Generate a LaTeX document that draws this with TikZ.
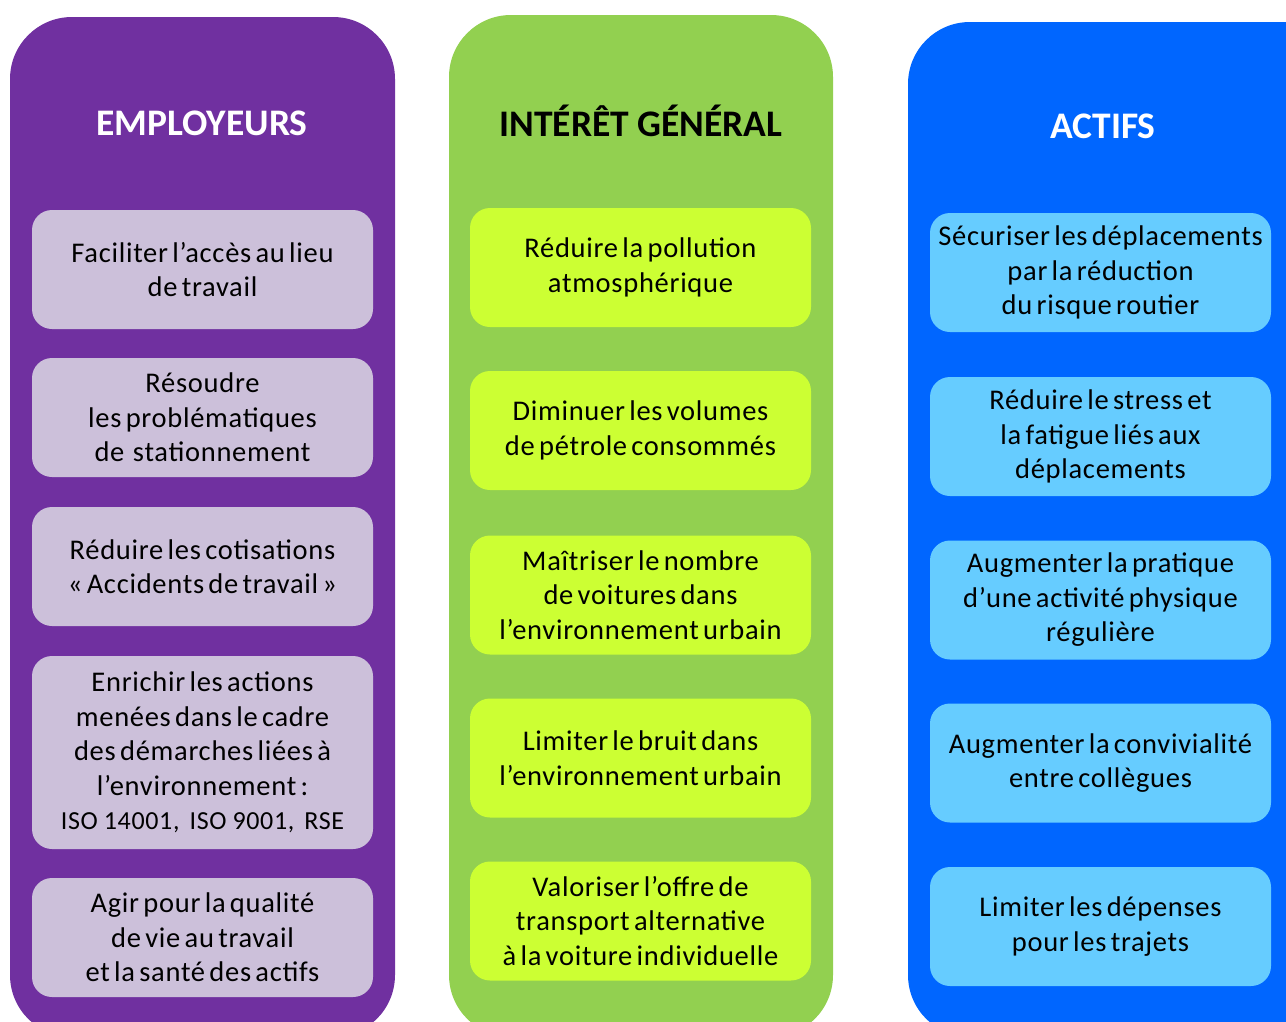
\documentclass[tikz,border=0pt]{standalone}
\usepackage{fontspec}
\setmainfont{Carlito}
\newfontfamily\boxfont{Carlito}[WordSpace=0.6,LetterSpace=2.5]
\definecolor{empdark}{HTML}{7030A0}
\definecolor{emplight}{HTML}{CCC0DA}
\definecolor{gendark}{HTML}{92D050}
\definecolor{genlight}{HTML}{CCFF33}
\definecolor{actdark}{HTML}{0066FF}
\definecolor{actlight}{HTML}{66CCFF}
\tikzset{
  panel/.style={rounded corners=62pt},
  heading/.style={font=\fontsize{37.5}{42}\selectfont\bfseries},
  item/.style={rounded corners=20pt, minimum width=341pt, minimum height=119pt,
    text width=338pt, inner sep=0pt, align=flush center,
    font=\boxfont\fontsize{28.5}{34.5}\selectfont}
}
\begin{document}
\begin{tikzpicture}[x=1pt,y=-1pt]
    \useasboundingbox (0,0) rectangle (1286,1021);
    \clip (0,0) rectangle (1286,1021);
    % les trois colonnes
    \fill[empdark,panel] (10,17) rectangle (395,1037);
    \fill[gendark,panel] (449,15) rectangle (833,1037);
    \fill[actdark,panel] (908,22) rectangle (1350,1037);
    \path (202,123) node[heading,white](employeurs){EMPLOYEURS};
    \path (641,121) node[heading,black](general){INTÉRÊT GÉNÉRAL};
    \path (1103,126) node[heading,white](actifs){ACTIFS};
    % employeurs
    \path (202.5,269.5) node[item,fill=emplight](emp1){Faciliter l’accès au lieu\\de travail};
    \path (202.5,417.5) node[item,fill=emplight](emp2){Résoudre\\les problématiques\\de\ \ stationnement};
    \path (202.5,566.5) node[item,fill=emplight](emp3){Réduire les cotisations\\« Accidents de travail »};
    \path (202.5,752.5) node[item,fill=emplight,minimum height=193pt](emp4){Enrichir les actions\\menées dans le cadre\\des démarches liées à\\l’environnement :\\{\fontsize{26}{34.5}\selectfont ISO\hspace{6pt}14001,\hspace{10pt}ISO\hspace{6pt}9001,\hspace{10pt}RSE}};
    \path (202.5,937.5) node[item,fill=emplight](emp5){Agir pour la qualité\\de vie au travail\\et la santé des actifs};
    % interet general
    \path (640.5,267.5) node[item,fill=genlight](gen1){Réduire la pollution\\atmosphérique};
    \path (640.5,430.5) node[item,fill=genlight](gen2){Diminuer les volumes\\de pétrole consommés};
    \path (640.5,595) node[item,fill=genlight](gen3){Maîtriser le nombre\\de voitures dans\\l’environnement urbain};
    \path (640.5,758) node[item,fill=genlight](gen4){Limiter le bruit dans\\l’environnement urbain};
    \path (640.5,921) node[item,fill=genlight](gen5){Valoriser l’offre de\\transport alternative\\à la voiture individuelle};
    % actifs
    \path (1100.5,272.5) node[item,fill=actlight](act1){Sécuriser les déplacements\\par la réduction\\du risque routier};
    \path (1100.5,436.5) node[item,fill=actlight](act2){Réduire le stress et\\la fatigue liés aux\\déplacements};
    \path (1100.5,600) node[item,fill=actlight](act3){Augmenter la pratique\\d’une activité physique\\régulière};
    \path (1100.5,763) node[item,fill=actlight](act4){Augmenter la convivialité\\entre collègues};
    \path (1100.5,926.5) node[item,fill=actlight](act5){Limiter les dépenses\\pour les trajets};
\end{tikzpicture}
\end{document}
